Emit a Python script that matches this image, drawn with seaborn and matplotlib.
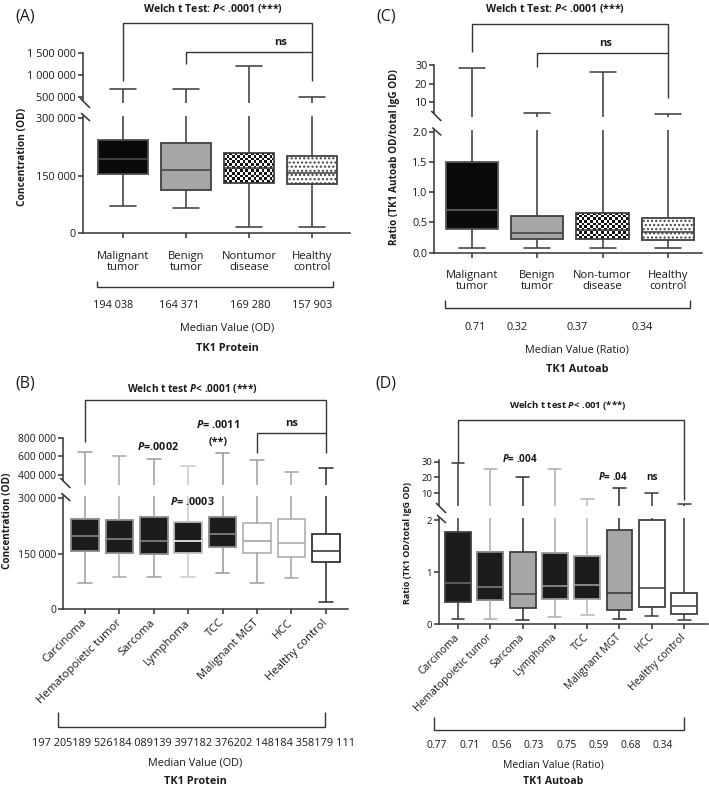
"""
plot.py - TK1 protein / TK1 autoantibody box plots (4 panels, broken y axes).
"""

import numpy as np
import pandas as pd
import matplotlib
matplotlib.use("Agg")
import matplotlib.pyplot as plt
import seaborn as sns

# ── data: (A) TK1 protein, main groups ──────────────────────────────────────
a_groups = ["Malignant\ntumor", "Benign\ntumor", "Nontumor\ndisease", "Healthy\ncontrol"]
a_min = [70000, 65000, 16000, 16000]
a_q1 = [154000, 112000, 130000, 128000]
a_med = [194038, 164371, 169280, 157903]
a_q3 = [243000, 235000, 209000, 201000]
a_max = [670000, 670000, 1200000, 500000]
a_median_labels = ["194 038", "164 371", "169 280", "157 903"]

# ── data: (C) TK1 autoantibody ratio, main groups ───────────────────────────
c_groups = ["Malignant\ntumor", "Benign\ntumor", "Non-tumor\ndisease", "Healthy\ncontrol"]
c_min = [0.07, 0.07, 0.07, 0.07]
c_q1 = [0.40, 0.22, 0.22, 0.21]
c_med = [0.71, 0.32, 0.37, 0.34]
c_q3 = [1.50, 0.60, 0.65, 0.57]
c_max = [28.6, 4.1, 26.0, 3.6]
c_median_labels = ["0.71", "0.32", "0.37", "0.34"]

# ── data: (B) TK1 protein, malignant subtypes ───────────────────────────────
b_groups = ["Carcinoma", "Hematopoietic tumor", "Sarcoma", "Lymphoma", "TCC",
            "Malignant MGT", "HCC", "Healthy control"]
b_min = [72000, 86000, 88000, 86000, 97000, 72000, 84000, 19000]
b_q1 = [158000, 153000, 149000, 151000, 169000, 151000, 140000, 129000]
b_med = [199000, 191000, 185000, 184000, 203000, 185000, 180000, 158000]
b_q3 = [244000, 241000, 250000, 235000, 248000, 232000, 244000, 203000]
b_max = [650000, 605000, 574000, 500000, 634000, 563000, 437000, 476000]
b_median_labels = ["197 205", "189 526", "184 089", "139 397", "182 376",
                   "202 148", "184 358", "179 111"]

# ── data: (D) TK1 autoantibody ratio, malignant subtypes ────────────────────
d_groups = b_groups
d_min = [0.10, 0.09, 0.08, 0.13, 0.17, 0.10, 0.15, 0.07]
d_q1 = [0.43, 0.46, 0.30, 0.49, 0.48, 0.27, 0.32, 0.20]
d_med = [0.78, 0.71, 0.57, 0.73, 0.76, 0.60, 0.69, 0.35]
d_q3 = [1.77, 1.39, 1.39, 1.36, 1.31, 1.80, 2.00, 0.59]
d_max = [29.4, 25.4, 20.0, 25.4, 6.2, 13.2, 10.4, 3.2]
d_median_labels = ["0.77", "0.71", "0.56", "0.73", "0.75", "0.59", "0.68", "0.34"]

# ── styles ──────────────────────────────────────────────────────────────────
INK = "#1a1a1a"
DARK = "#404040"


def st(fill, edge=DARK, whisker=DARK, median=DARK, hatch=None, checker=False):
    return dict(fill=fill, edge=edge, whisker=whisker, median=median,
                hatch=hatch, checker=checker)


a_styles = [st("#0a0a0a", "#4d4d4d", DARK, "#4d4d4d"), st("#a6a6a6"),
            st("white", checker=True), st("white", hatch="....")]
c_styles = [st("#0a0a0a", "#555555", DARK, "#666666"), st("#a6a6a6"),
            st("white", checker=True), st("white", hatch="....")]
b_styles = [st("#1c1c1c", "#8a8a8a", "#a0a0a0", "#8a8a8a"),
            st("#1c1c1c", "#8a8a8a", "#aaaaaa", "#8a8a8a"),
            st("#1c1c1c", "#8a8a8a", "#a0a0a0", "#8a8a8a"),
            st("#1c1c1c", "#c0c0c0", "#cccccc", "white"),
            st("#1c1c1c", "#8a8a8a", "#999999", "#8a8a8a"),
            st("white", "#b5b5b5", "#a0a0a0", "#a0a0a0"),
            st("white", "#b5b5b5", "#a8a8a8", "#a8a8a8"),
            st("white", "#333333", "#333333", "#333333")]
d_styles = [st("#1c1c1c", DARK, DARK, "#666666"),
            st("#1c1c1c", "#808080", "#b0b0b0", "#808080"),
            st("#a6a6a6", DARK, "#333333", DARK),
            st("#1c1c1c", "#999999", "#b0b0b0", "#999999"),
            st("#1c1c1c", "#a0a0a0", "#b8b8b8", "#a0a0a0"),
            st("#a6a6a6", DARK, "#333333", "#333333"),
            st("white"), st("white")]

sns.set_style("ticks")
plt.rcParams["font.family"] = ["Open Sans", "DejaVu Sans"]
plt.rcParams["mathtext.fontset"] = "custom"
plt.rcParams["mathtext.it"] = "Open Sans:italic:bold"
plt.rcParams["mathtext.rm"] = "Open Sans"
plt.rcParams["mathtext.bf"] = "Open Sans:bold"
plt.rcParams["text.color"] = INK
plt.rcParams["hatch.linewidth"] = 1.0

W, H = 709, 788
fig = plt.figure(figsize=(W / 100, H / 100), dpi=100)


def add_ax(left, right, top, bottom):
    return fig.add_axes([left / W, 1 - bottom / H, (right - left) / W, (bottom - top) / H])


def long_form(groups, *stats):
    rows = [(g, s[i]) for i, g in enumerate(groups) for s in stats]
    return pd.DataFrame(rows, columns=["group", "value"])


def draw_boxes(ax, df, groups, styles):
    boxes = []
    for g, s in zip(groups, styles):
        sns.boxplot(data=df[df.group == g], x="group", y="value", order=groups,
                    whis=(0, 100), width=0.8, color=s["fill"], saturation=1,
                    linecolor=s["edge"], linewidth=1.3, showfliers=False,
                    whiskerprops={"color": s["whisker"], "linewidth": 1.15},
                    capprops={"color": s["whisker"], "linewidth": 1.15},
                    medianprops={"color": s["median"], "linewidth": 1.15},
                    ax=ax)
        boxes.append(ax.patches[-1])
    ax.set(xlabel="", ylabel="")
    return boxes


def add_patterns(ax, boxes, styles):
    for box, s in zip(boxes, styles):
        if s["hatch"]:
            box.set_hatch(s["hatch"])
        if s["checker"]:
            ext = box.get_path().get_extents()
            p0 = ax.transData.transform((ext.x0, ext.y0))
            p1 = ax.transData.transform((ext.x1, ext.y1))
            nx = max(1, int(round(abs(p1[0] - p0[0]) / 2.7)))
            ny = max(1, int(round(abs(p1[1] - p0[1]) / 2.7)))
            cells = np.add.outer(np.arange(ny), np.arange(nx)) % 2
            box.set_facecolor("none")
            im = ax.imshow(cells, cmap=matplotlib.colors.ListedColormap(["#111111", "white"]),
                           extent=(ext.x0, ext.x1, ext.y0, ext.y1), aspect="auto",
                           interpolation="nearest", zorder=box.get_zorder() - 0.01)
            im.set_clip_path(box)


def style_axis(ax, upper, yticks, fmt, size):
    for s in ["top", "right"]:
        ax.spines[s].set_visible(False)
    for s in ["left", "bottom"]:
        ax.spines[s].set_linewidth(1.1)
        ax.spines[s].set_color("#333333")
    ax.set_facecolor("none")
    ax.set_yticks(yticks, [fmt(v) for v in yticks])
    ax.tick_params(axis="both", length=3.5, width=1.1, color="#333333",
                   labelsize=size, labelcolor=INK, pad=1.5)
    if upper:
        ax.spines["bottom"].set_visible(False)
        ax.tick_params(axis="x", bottom=False, labelbottom=False)


def od_fmt(v):
    return f"{int(v):,}".replace(",", " ")


def make_panel(geo, groups, stats, styles, ylims, yticks, fmt, size):
    left, right, up_top, up_bot, lo_top, lo_bot = geo
    ax_up = add_ax(left, right, up_top, up_bot)
    ax_lo = add_ax(left, right, lo_top, lo_bot)
    df = long_form(groups, *stats)
    # upper segment only shows the whiskers, no box reaches it
    for box in draw_boxes(ax_up, df, groups, styles):
        box.set_visible(False)
    boxes = draw_boxes(ax_lo, df, groups, styles)
    (up_lim, up_bounds, lo_lim, xlim) = ylims
    for ax, lim, ticks, upper in [(ax_up, up_lim, yticks[0], True),
                                  (ax_lo, lo_lim, yticks[1], False)]:
        ax.set_xlim(*xlim)
        ax.set_ylim(*lim)
        style_axis(ax, upper, ticks, fmt[0] if upper else fmt[1], size)
    ax_up.spines["left"].set_bounds(*up_bounds)
    add_patterns(ax_lo, boxes, styles)
    ax_lo.set_xlim(*xlim)
    ax_lo.set_ylim(*lo_lim)
    return ax_up, ax_lo


# ── panels ──────────────────────────────────────────────────────────────────
axA_up, axA = make_panel(
    (83, 350, 53.3, 103.3, 116, 233.3), a_groups, (a_min, a_q1, a_med, a_q3, a_max),
    a_styles, ((348e3, 1.5e6), (424e3, 1.5e6), (0, 306e3), (-0.635, 3.603)),
    ([500000, 1000000, 1500000], [0, 150000, 300000]), (od_fmt, od_fmt), 7.8)

axC_up, axC = make_panel(
    (434.3, 702, 65, 116.7, 130.5, 252.7), c_groups, (c_min, c_q1, c_med, c_q3, c_max),
    c_styles, ((2.1, 30), (4.3, 30), (0, 2.02), (-0.577, 3.522)),
    ([10, 20, 30], [0, 0.5, 1.0, 1.5, 2.0]),
    (lambda v: f"{v:g}", lambda v: f"{v:.1f}"), 7.8)

axB_up, axB = make_panel(
    (63.3, 348, 437.5, 485, 496, 609.3), b_groups, (b_min, b_q1, b_med, b_q3, b_max),
    b_styles, ((295e3, 800e3), (347e3, 800e3), (0, 306e3), (-0.631, 7.645)),
    ([400000, 600000, 800000], [0, 150000, 300000]), (od_fmt, od_fmt), 7.5)

axD_up, axD = make_panel(
    (439, 708, 460, 505.7, 518, 624), d_groups, (d_min, d_q1, d_med, d_q3, d_max),
    d_styles, ((2.1, 31), (2.6, 31), (0, 2.04), (-0.588, 7.74)),
    ([10, 20, 30], [0, 1, 2]), (lambda v: f"{v:g}", lambda v: f"{v:g}"), 6.8)

# x tick labels
for ax, groups in [(axA, a_groups), (axC, c_groups)]:
    ax.set_xticks(range(len(groups)), groups, fontsize=8.1, linespacing=1.05)
    ax.tick_params(axis="x", pad=9)
axB.set_xticks(range(len(b_groups)), b_groups, rotation=45, ha="right",
               va="center", rotation_mode="anchor", fontsize=8.2)
axB.tick_params(axis="x", pad=5)
axD.set_xticks(range(len(d_groups)), d_groups, rotation=45, ha="right",
               va="center", rotation_mode="anchor", fontsize=7.5)
axD.tick_params(axis="x", pad=5)

# ── annotation layer in figure pixels ───────────────────────────────────────
ann = fig.add_axes([0, 0, 1, 1], zorder=5)
ann.set_xlim(0, W)
ann.set_ylim(H, 0)
ann.axis("off")


def px(ax, i):
    return ax.transData.transform((i, 0))[0]


def line(xs, ys, color="#333333", lw=1.0):
    ann.plot(xs, ys, color=color, lw=lw, solid_capstyle="butt", solid_joinstyle="miter")


def text(x, y, s, size=7.8, bold=False, **kw):
    ann.text(x, y, s, ha=kw.pop("ha", "center"), va=kw.pop("va", "center"),
             fontsize=size, fontweight="bold" if bold else "normal", **kw)


def breaks(x, up_end, lo_start):
    line([x - 3, x + 7], [up_end - 2, up_end + 8], lw=1.1)
    line([x - 2, x + 7], [lo_start - 3, lo_start + 5], lw=1.1)


breaks(83, 100, 116)
breaks(434.3, 113, 130.5)
breaks(63.3, 480, 496)
breaks(439, 505, 518)

P = r"$\mathit{P}$"

# (A)
text(25, 16, "(A)", size=11.5)
text(213, 8, f"Welch t Test: {P}< .0001 (***)", size=7.6, bold=True)
xa = [px(axA, i) for i in range(4)]
line([xa[0], xa[0], xa[3], xa[3]], [81, 23, 23, 81])
line([xa[1], xa[1], xa[3]], [64, 52, 52])
text((xa[2] + xa[3]) / 2, 42, "ns", size=8, bold=True)
text(23, 157, "Concentration (OD)", size=7.3, bold=True, rotation=90)
line([97, 97, 333, 333], [281, 287, 287, 281])
for pos, lab in zip([-0.16, 0.9, 2.02, 3.0], a_median_labels):
    text(px(axA, pos), 305, lab)
text(227, 328, "Median Value (OD)")
text(227, 348, "TK1 Protein", bold=True)

# (C)
text(386, 16, "(C)", size=11.5)
text(555, 8, f"Welch t Test: {P}< .0001 (***)", size=7.6, bold=True)
xc = [px(axC, i) for i in range(4)]
line([xc[0], xc[0], xc[3], xc[3]], [52, 24, 24, 98])
line([xc[1], xc[1], xc[3]], [67, 53, 53])
text((xc[2] + xc[3]) / 2 - 30, 43, "ns", size=8, bold=True)
text(395, 157, "Ratio (TK1 Autoab OD/total IgG OD)", size=7.2, bold=True, rotation=90)
line([445, 445, 690, 690], [300, 308, 308, 300])
for pos, lab in zip([0.05, 0.69, 1.61, 2.6], c_median_labels):
    text(px(axC, pos), 327, lab)
text(577, 350, "Median Value (Ratio)")
text(577, 369, "TK1 Autoab", bold=True)

# (B)
text(25, 383, "(B)", size=11.5)
text(192, 388, f"Welch t test {P}< .0001 (***)", size=7.3, bold=True)
xb = [px(axB, i) for i in range(8)]
line([xb[0], xb[0], xb[7], xb[7]], [442, 400, 400, 453])
line([xb[5], xb[5], xb[7]], [453, 433, 433])
text((xb[5] + xb[7]) / 2, 423, "ns", size=8, bold=True)
text(218, 425, f"{P}= .0011", size=7.8, bold=True)
text(218, 442, "(**)", size=7.8, bold=True)
text(158, 447, f"{P}=.0002", size=7.8, bold=True)
text(192, 502, f"{P}= .0003", size=7.8, bold=True)
text(8, 521, "Concentration (OD)", size=7.2, bold=True, rotation=90)
line([58, 58, 325, 325], [712, 727, 727, 712])
text(194, 743, "".join(b_median_labels))
text(195, 763, "Median Value (OD)")
text(195, 781, "TK1 Protein", bold=True)

# (D)
text(386, 383, "(D)", size=11.5)
text(568, 405, f"Welch t test {P}< .001 (***)", size=6.8, bold=True)
xd = [px(axD, i) for i in range(8)]
line([xd[0], xd[0], xd[7], xd[7]], [462, 420, 420, 500])
text(520, 459, f"{P}= .004", size=7.2, bold=True)
text(613, 477, f"{P}= .04", size=7.2, bold=True)
text(652, 477, "ns", size=7.2, bold=True)
text(408, 543, "Ratio (TK1 OD/total IgG OD)", size=6.5, bold=True, rotation=90)
line([434, 434, 684, 684], [717, 730, 730, 717])
for i, lab in enumerate(d_median_labels):
    text(px(axD, i - 0.65), 746, lab, size=7.4)
text(553, 765, "Median Value (Ratio)", size=7.6)
text(553, 781, "TK1 Autoab", size=7.6, bold=True)

fig.savefig("out.png", dpi=100)
